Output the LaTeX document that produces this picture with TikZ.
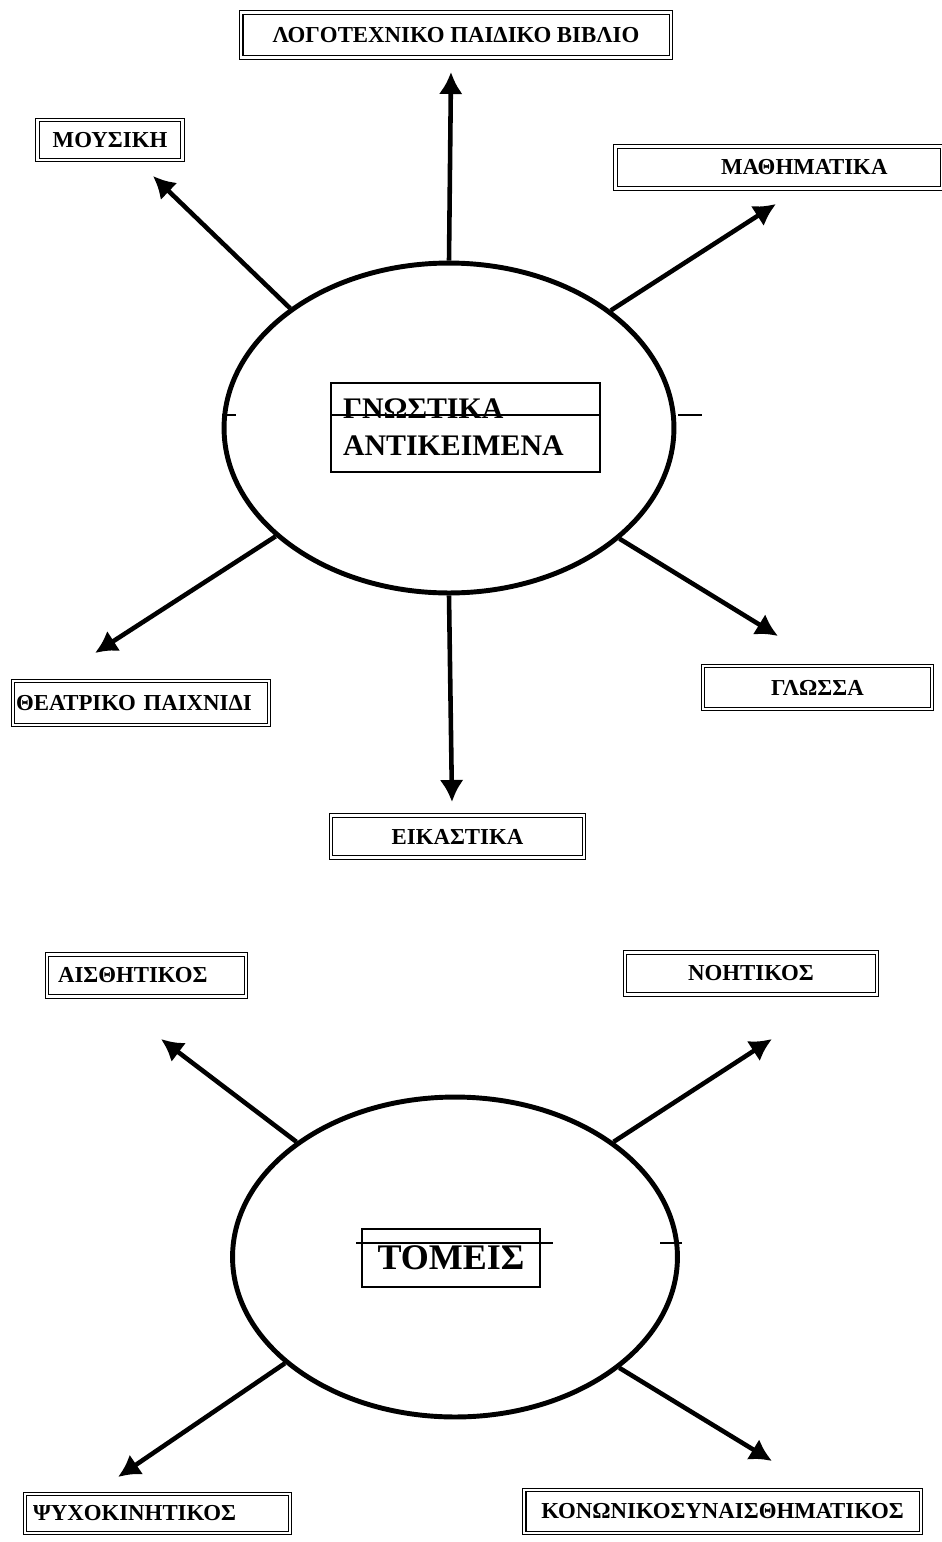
\documentclass[tikz,border=0pt]{standalone}
\usepackage{fontspec}
\setmainfont{Liberation Serif}
\usepackage{tikz}
\usetikzlibrary{positioning,arrows.meta,shapes.geometric}

\begin{document}
\begin{tikzpicture}[x=0.02cm,y=-0.02cm,
	box/.style={rectangle, draw, line width=0.8pt, double, double distance=1.2pt, minimum height=0.84cm, inner sep=1pt, font=\bfseries\fontsize{13}{15}\selectfont},
	circ/.style={ellipse, draw, line width=2.8pt, inner sep=0pt},
	conn/.style={line width=2.6pt, -{Latex[length=4.4mm,width=4.8mm]}},
	strike/.style={line width=0.6pt}]
	\useasboundingbox (0,0) rectangle (941,1542);
	
	% Upper diagram: the subjects
	\node (gnostika) [circ, minimum width=9cm, minimum height=6.6cm] at (449,428) {};
	\node (gnostikabox) [rectangle, draw, line width=0.8pt, minimum height=1.78cm, text width=4.9cm, inner xsep=0.24cm, align=left, font=\bfseries\fontsize{17}{21}\selectfont] at (465.5,427.5) {ΓΝΩΣΤΙΚΑ\\ΑΝΤΙΚΕΙΜΕΝΑ};
	\draw[strike] (331,415) -- (600,415);
	\draw[strike] (222,415) -- (236,415);
	\draw[strike] (678,415) -- (702,415);
	
	\node (logotexniko) [box, minimum width=8.6cm, minimum height=0.9cm] at (456,35) {ΛΟΓΟΤΕΧΝΙΚΟ ΠΑΙΔΙΚΟ ΒΙΒΛΙΟ};
	\node (mousiki) [box, minimum width=2.9cm, minimum height=0.8cm] at (110,140) {ΜΟΥΣΙΚΗ};
	\node (mathimatika) [box, text width=4.34cm, inner xsep=1.1cm, align=right] at (779,167.5) {ΜΑΘΗΜΑΤΙΚΑ};
	\node (theatro) [box, text width=5.0cm, inner xsep=0.06cm, align=left, minimum height=0.88cm] at (141,703) {ΘΕΑΤΡΙΚΟ ΠΑΙΧΝΙΔΙ};
	\node (glossa) [box, minimum width=4.58cm, minimum height=0.86cm] at (817.5,687.5) {ΓΛΩΣΣΑ};
	\node (eikastika) [box, minimum width=5.06cm] at (457.5,836.5) {ΕΙΚΑΣΤΙΚΑ};
	
	\coordinate (tiplogo) at (451,72);
	\coordinate (tipmousiki) at (153,176);
	\coordinate (tipmath) at (776,204);
	\coordinate (tiptheatro) at (95,653);
	\coordinate (tipglossa) at (778,636);
	\coordinate (tipeikast) at (452,802);
	
	\path[conn] (gnostika.north) edge (tiplogo);
	\path[conn] (gnostika.143.6) edge (tipmousiki);
	\path[conn] (gnostika.36.3) edge (tipmath);
	\path[conn] (gnostika.212.7) edge (tiptheatro);
	\path[conn] (gnostika.327.8) edge (tipglossa);
	\path[conn] (gnostika.south) edge (tipeikast);
	
	% Lower diagram: the domains
	\node (tomeis) [circ, minimum width=8.9cm, minimum height=6.4cm] at (455,1257) {};
	\node (tomeisbox) [rectangle, draw, line width=0.8pt, minimum width=3.56cm, minimum height=1.16cm, font=\bfseries\fontsize{20.5}{24}\selectfont] at (451,1258) {ΤΟΜΕΙΣ};
	\draw[strike] (356,1243) -- (553,1243);
	\draw[strike] (660,1243) -- (682,1243);
	
	\node (aisthitikos) [box, text width=3.54cm, inner xsep=0.22cm, align=left] at (146.5,975.5) {ΑΙΣΘΗΤΙΚΟΣ};
	\node (noitikos) [box, minimum width=5.04cm] at (751,973.5) {ΝΟΗΤΙΚΟΣ};
	\node (psyxokinitikos) [box, text width=4.98cm, inner xsep=0.16cm, align=left, minimum height=0.78cm] at (157.5,1513.5) {ΨΥΧΟΚΙΝΗΤΙΚΟΣ};
	\node (koinonikos) [box, minimum width=7.94cm, minimum height=0.86cm] at (722.5,1511.5) {ΚΟΝΩΝΙΚΟΣΥΝΑΙΣΘΗΜΑΤΙΚΟΣ};
	
	\coordinate (tipaisth) at (161,1039);
	\coordinate (tipnoit) at (772,1039);
	\coordinate (tippsyxo) at (118,1477);
	\coordinate (tipkoin) at (772,1461);
	
	\path[conn] (tomeis.144.5) edge (tipaisth);
	\path[conn] (tomeis.36.7) edge (tipnoit);
	\path[conn] (tomeis.212.4) edge (tippsyxo);
	\path[conn] (tomeis.326.8) edge (tipkoin);
\end{tikzpicture}
\end{document}
